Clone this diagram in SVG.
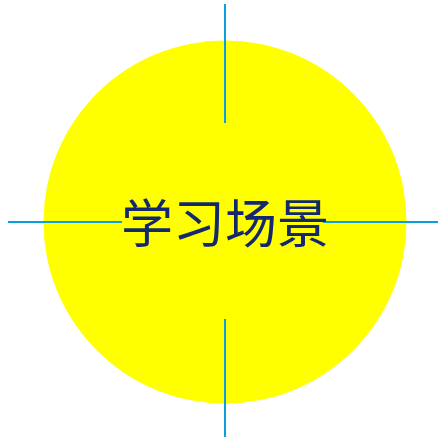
<svg xmlns="http://www.w3.org/2000/svg" width="438" height="442" viewBox="0 0 438 442">
<style>
.axis{stroke:#0aa0dc;stroke-width:2;fill:none}
.lbl{font-family:"Liberation Serif","Noto Sans CJK SC",serif;font-size:52px;fill:#14286e;text-anchor:middle}
</style>
<rect width="438" height="442" fill="#ffffff"/>
<g id="node-scene">
<circle cx="225" cy="222" r="181.5" fill="#ffff00"/>
</g>
<g id="connectors">
<line class="axis" x1="225" y1="4" x2="225" y2="123"/>
<line class="axis" x1="225" y1="319" x2="225" y2="437"/>
<line class="axis" x1="8" y1="222" x2="122" y2="222"/>
<line class="axis" x1="323" y1="222" x2="438" y2="222"/>
</g>
<g id="label">
<text class="lbl" x="225" y="243">学习场景</text>
</g>
</svg>
